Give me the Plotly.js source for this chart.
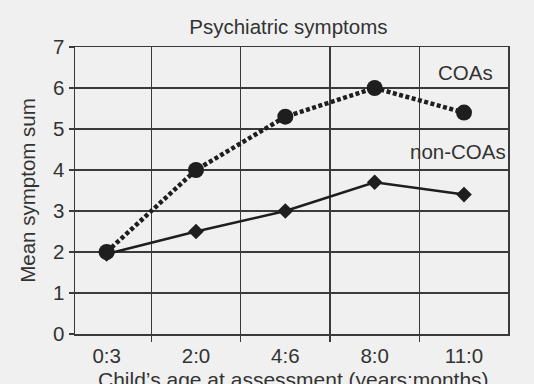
<!DOCTYPE html>
<html>
<head>
<meta charset="utf-8">
<script src="https://cdn.plot.ly/plotly-3.0.1.min.js"></script>
<style>html,body{margin:0;padding:0;background:#f0f0f0;}#chart{width:534px;height:384px;}</style>
</head>
<body>
<div id="chart"></div>
<script>
var ages = ["0:3", "2:0", "4:6", "8:0", "11:0"];
var coas = [2.0, 4.0, 5.3, 6.0, 5.4];
var nonCoas = [1.95, 2.5, 3.0, 3.7, 3.4];
var yTicks = [0, 1, 2, 3, 4, 5, 6, 7];

var fam = "Liberation Sans, Arial, Helvetica, sans-serif";
var txt = "#333";

var traces = [
  {
    x: ages, y: nonCoas, type: "scatter", mode: "lines+markers", name: "non-COAs",
    line: {color: "#1e1e1e", width: 2.5},
    marker: {symbol: "diamond", size: 12, color: "#1e1e1e"}
  },
  {
    x: ages, y: coas, type: "scatter", mode: "lines+markers", name: "COAs",
    line: {color: "#1e1e1e", width: 4.5, dash: "4px,2.5px"},
    marker: {symbol: "circle", size: 16, color: "#1e1e1e"}
  }
];

var layout = {
  width: 534, height: 384,
  margin: {l: 75, r: 26, t: 47, b: 50},
  paper_bgcolor: "#f0f0f0",
  plot_bgcolor: "#f0f0f0",
  showlegend: false,
  font: {family: fam, color: txt, size: 20.5},
  title: {text: "Psychiatric symptoms", x: 0.54, xanchor: "center", y: 0.93, yanchor: "middle",
          font: {family: fam, size: 20.5, color: txt}},
  xaxis: {
    type: "category",
    tickson: "boundaries",
    showgrid: true, gridcolor: "#3a3a3a", gridwidth: 1.5,
    showline: true, linecolor: "#3a3a3a", linewidth: 1.5, mirror: true,
    ticks: "outside", ticklen: 6, tickcolor: "#3a3a3a", tickwidth: 1.5,
    ticklabelstandoff: 3,
    tickfont: {family: fam, size: 20.5, color: txt},
    fixedrange: true
  },
  yaxis: {
    range: [0, 7],
    tickvals: yTicks,
    showgrid: true, gridcolor: "#3a3a3a", gridwidth: 1.5,
    zeroline: false,
    showline: true, linecolor: "#3a3a3a", linewidth: 1.5, mirror: true,
    ticks: "outside", ticklen: 5, tickcolor: "#3a3a3a", tickwidth: 1.5,
    tickfont: {family: fam, size: 20.5, color: txt},
    title: {text: "Mean symptom sum", standoff: 12,
            font: {family: fam, size: 20.5, color: txt}},
    fixedrange: true
  },
  annotations: [
    {x: "11:0", y: 6.37, xref: "x", yref: "y", text: "COAs", showarrow: false, xshift: 1,
     font: {family: fam, size: 20.5, color: txt}},
    {x: "11:0", y: 4.44, xref: "x", yref: "y", text: "non-COAs", showarrow: false, xshift: -6,
     font: {family: fam, size: 20.5, color: txt}},
    {x: 0.505, y: 0, xref: "paper", yref: "paper", xanchor: "center", yanchor: "top",
     yshift: -32, text: "Child\u2019s age at assessment (years:months)", showarrow: false,
     font: {family: fam, size: 21, color: txt}}
  ]
};

Plotly.newPlot("chart", traces, layout, {displayModeBar: false, staticPlot: true});
</script>
</body>
</html>
